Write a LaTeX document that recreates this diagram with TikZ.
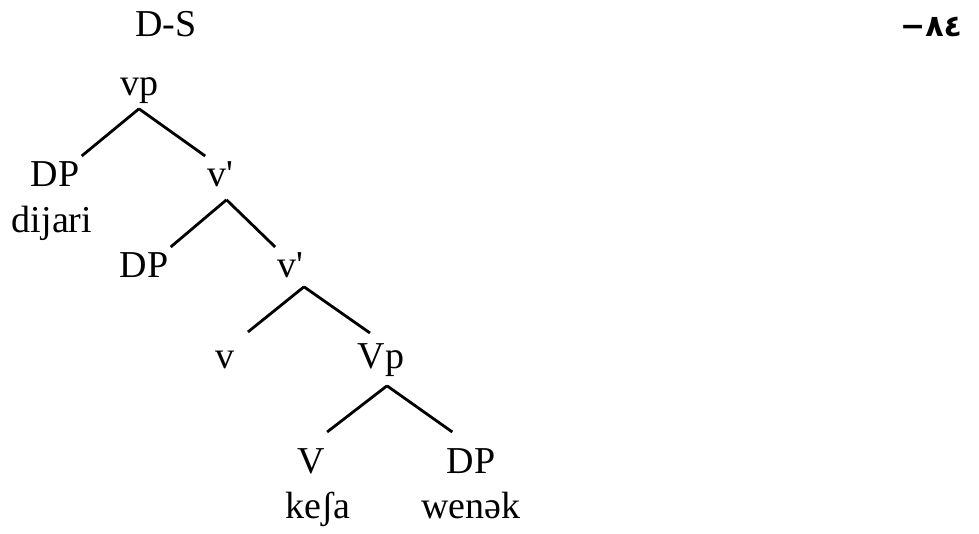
\documentclass[tikz,border=0pt]{standalone}
\usepackage{fontspec}
\setmainfont{Liberation Serif}
\newfontfamily\arabicfont{DejaVu Sans}
\usetikzlibrary{positioning}

\begin{document}
\begin{tikzpicture}[x=0.5pt, y=-0.5pt,
    lab/.style={font=\fontsize{19}{22}\selectfont, anchor=base, inner xsep=1pt, inner ysep=2pt, text height=13.3pt, text depth=4.2pt},
    br/.style={line width=1.4pt}]
  \useasboundingbox (0,0) rectangle (979,534);
  \node[lab] (ds) at (166,37) {D-S};
  \node[font=\arabicfont\bfseries\fontsize{15}{18}\selectfont, anchor=base, inner sep=0pt] (num) at (931,37) {−٨٤};
  \node[lab] (vp) at (139,96) {vp};
  \node[lab] (dpa) at (55,187) {DP};
  \node[lab, below=1pt of dpa, xshift=-1.5pt] (wa) {dijari};
  \node[lab] (va) at (220.5,187) {v\textquotesingle};
  \draw[br] (vp.south) -- (dpa.north east); \draw[br] (vp.south) -- (va.north west);
  \node[lab] (dpb) at (144,278) {DP};
  \node[lab] (vb) at (290.5,278) {v\textquotesingle};
  \draw[br] ([xshift=3pt]va.south) -- (dpb.north east); \draw[br] ([xshift=3pt]va.south) -- (vb.north west);
  \node[lab] (vs) at (225,368) {v};
  \node[lab] (vc) at (381,368) {Vp};
  \draw[br] ([xshift=6.75pt,yshift=2pt]vb.south) -- ([xshift=5.5pt,yshift=2.5pt]vs.north east);
  \draw[br] ([xshift=6.75pt,yshift=2pt]vb.south) -- ([xshift=-5.5pt,yshift=2pt]vc.north);
  \node[lab] (vv) at (311,473) {V};
  \node[lab, below=1pt of vv, xshift=3.5pt] (wb) {keʃa};
  \node[lab] (dpc) at (471,473) {DP};
  \node[lab, below=1pt of dpc] (wc) {wenək};
  \draw[br] ([xshift=3pt,yshift=-2.5pt]vc.south) -- ([yshift=5pt]vv.north east);
  \draw[br] ([xshift=3pt,yshift=-2.5pt]vc.south) -- ([xshift=4pt,yshift=5pt]dpc.north west);
\end{tikzpicture}
\end{document}
